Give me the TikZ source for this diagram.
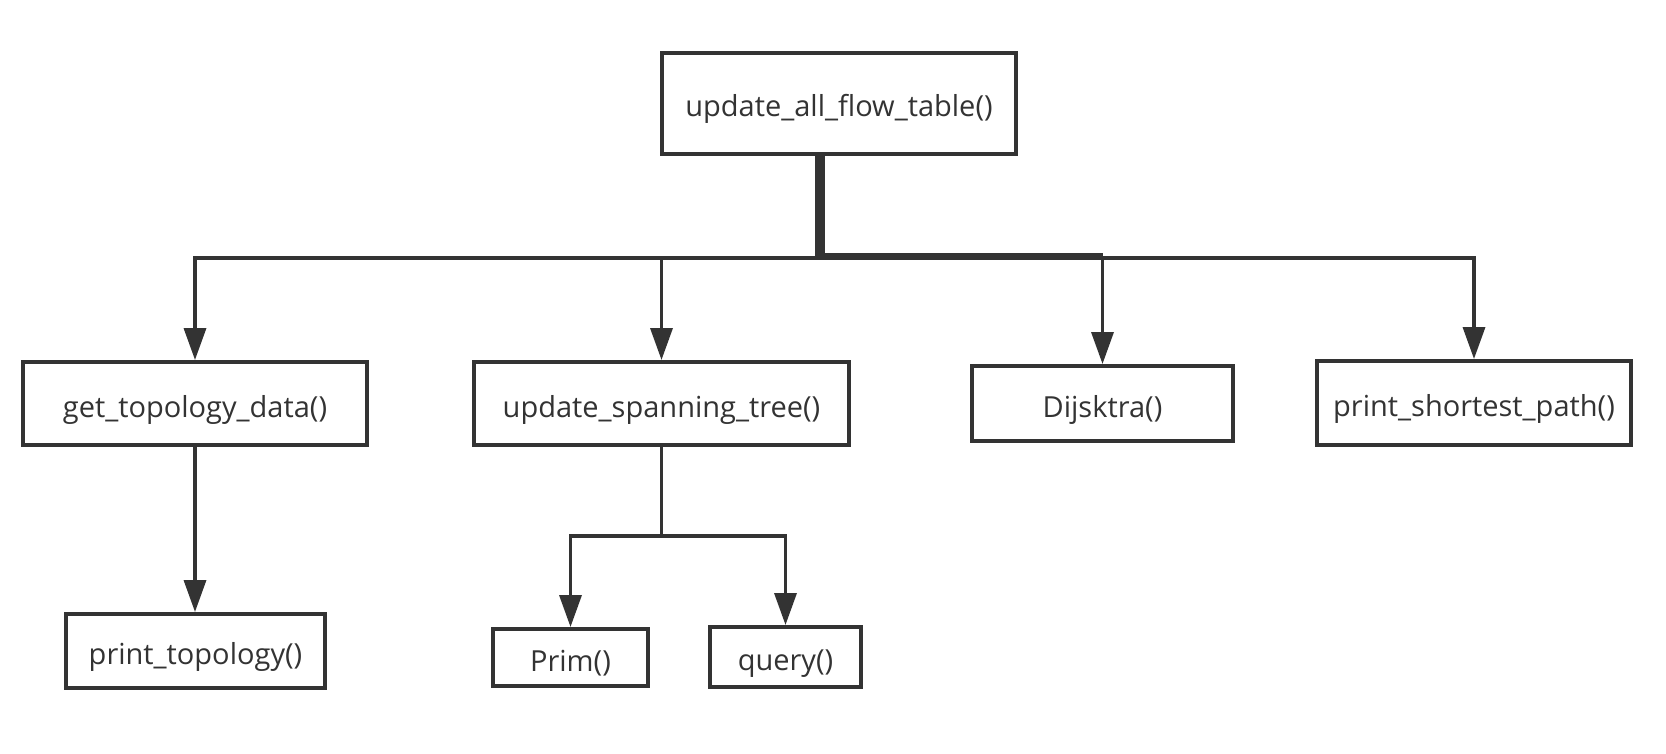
\documentclass[tikz,border=0pt]{standalone}
\usepackage{fontspec}
\setmainfont{Open Sans}
\usetikzlibrary{arrows.meta}
\definecolor{ink}{HTML}{333333}
\begin{document}
\begin{tikzpicture}[x=1pt,y=-1pt,
  box/.style={draw=ink,line width=4pt,fill=white,inner sep=0pt,text=ink,
    font=\fontsize{29}{34}\selectfont,text height=30pt,text depth=3pt},
  wire/.style={draw=ink,line width=3.5pt},
  link/.style={wire,-{Triangle[length=32pt,width=22pt]}},
  bold/.style={draw=ink},
]
\fill[white] (0,0) rectangle (1666,754);
\useasboundingbox (0,0) rectangle (1666,754);

\node[box,minimum width=354pt,minimum height=101pt] (top) at (839,103.5) {update\_all\_flow\_table()};
\node[box,minimum width=344pt,minimum height=83pt] (gtd) at (195,403.5) {get\_topology\_data()};
\node[box,minimum width=375pt,minimum height=83pt] (ust) at (661.5,403.5) {update\_spanning\_tree()};
\node[box,minimum width=261pt,minimum height=75pt] (dij) at (1102.5,403.5) {Dijsktra()};
\node[box,minimum width=314pt,minimum height=84pt] (psp) at (1474,403) {print\_shortest\_path()};
\node[box,minimum width=259pt,minimum height=74pt] (pt) at (195.5,651) {print\_topology()};
\node[box,minimum width=155pt,minimum height=57pt] (prim) at (570.5,657.5) {Prim()};
\node[box,minimum width=151pt,minimum height=60pt] (query) at (785.5,657) {query()};

\coordinate (tj) at (820,258);
\coordinate (sj) at (661.5,536);

\draw[link] (tj) -| (gtd);
\draw[link] (tj) -| (ust);
\draw[link] (tj) -| (dij);
\draw[link] (tj) -| (psp);

\draw[bold,line width=10pt] (top.south -| tj) -- ([yshift=5pt]tj);
\draw[bold,line width=7pt] ([xshift=-5pt,yshift=1.5pt]tj) -- ([yshift=1.5pt]tj -| dij);

\draw[link] (gtd.south) -- (gtd.south |- pt.north);

\draw[wire] (ust) -- (sj);
\draw[link] (sj) -| (prim);
\draw[link] (sj) -| (query);
\end{tikzpicture}
\end{document}
